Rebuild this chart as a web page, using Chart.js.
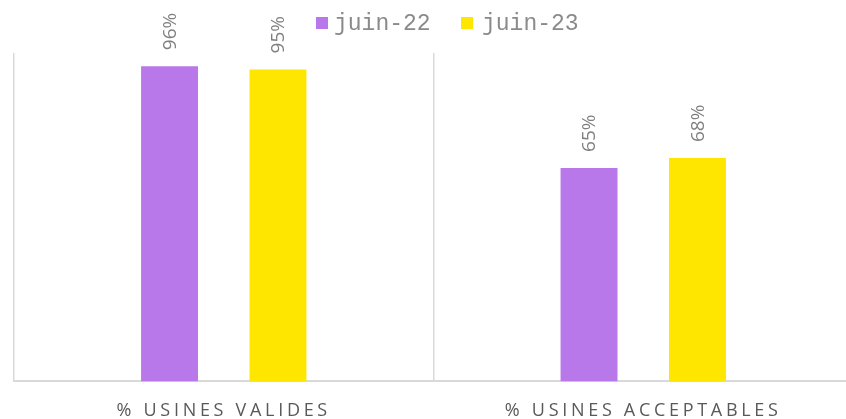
<!DOCTYPE html>
<html>
<head>
<meta charset="utf-8">
<script src="https://cdn.jsdelivr.net/npm/chart.js@4/dist/chart.umd.min.js"></script>
<style>
  html, body { margin: 0; padding: 0; background: #fff; overflow: hidden; width: 846px; height: 419px; }
  #wrap { position: relative; width: 860px; height: 441px; }
</style>
</head>
<body>
<div id="wrap"><canvas id="c"></canvas></div>
<script>
const categories = ['% USINES VALIDES', '% USINES ACCEPTABLES'];
const seriesNames = ['juin-22', 'juin-23'];
const juin22 = [96, 65];
const juin23 = [95, 68];
const seriesColors = ['#B878EA', '#FFE600'];

class SpacedCategory extends Chart.CategoryScale {
  drawLabels(area) {
    const ctx = this.ctx;
    ctx.save();
    ctx.letterSpacing = '3.7px';
    super.drawLabels(area);
    ctx.restore();
  }
}
SpacedCategory.id = 'spacedCategory';
SpacedCategory.defaults = Chart.CategoryScale.defaults;
Chart.register(SpacedCategory);

const valueLabels = {
  id: 'valueLabels',
  afterDatasetsDraw(chart) {
    const ctx = chart.ctx;
    ctx.save();
    ctx.font = '19px "Open Sans"';
    ctx.fillStyle = '#7f7f7f';
    ctx.textAlign = 'left';
    ctx.textBaseline = 'middle';
    chart.data.datasets.forEach((ds, di) => {
      chart.getDatasetMeta(di).data.forEach((bar, i) => {
        ctx.save();
        ctx.translate(bar.x + 1, bar.y - 16);
        ctx.rotate(-Math.PI / 2);
        ctx.fillText(ds.data[i] + '%', 0, 0);
        ctx.restore();
      });
    });
    ctx.restore();
  }
};

const customLegend = {
  id: 'customLegend',
  afterDraw(chart) {
    const ctx = chart.ctx;
    ctx.save();
    ctx.font = '23px "Liberation Mono"';
    ctx.textBaseline = 'alphabetic';
    const starts = [316, 461];
    chart.data.datasets.forEach((ds, di) => {
      const x = starts[di];
      ctx.fillStyle = ds.backgroundColor;
      ctx.fillRect(x, 17, 12, 12);
      ctx.fillStyle = '#8a8a8a';
      ctx.fillText(ds.label, x + (di === 0 ? 18 : 21), 30);
    });
    ctx.restore();
  }
};

new Chart(document.getElementById('c'), {
  type: 'bar',
  data: {
    labels: categories,
    datasets: [
      { label: seriesNames[0], data: juin22, backgroundColor: seriesColors[0] },
      { label: seriesNames[1], data: juin23, backgroundColor: seriesColors[1] }
    ]
  },
  options: {
    responsive: true,
    maintainAspectRatio: false,
    animation: false,
    events: [],
    categoryPercentage: 0.517,
    barPercentage: 0.525,
    layout: { padding: { left: 14, right: 7, top: 53, bottom: 0 } },
    plugins: {
      legend: { display: false },
      tooltip: { enabled: false }
    },
    scales: {
      x: {
        type: 'spacedCategory',
        offset: true,
        grid: { offset: true, color: '#d9d9d9', lineWidth: 1.5, drawTicks: false },
        border: { color: '#d9d9d9', width: 2 },
        ticks: { color: '#595959', font: { family: '"Open Sans"', size: 18 }, padding: 19 }
      },
      y: {
        display: false,
        min: 0,
        max: 100
      }
    }
  },
  plugins: [valueLabels, customLegend]
});
</script>
</body>
</html>
